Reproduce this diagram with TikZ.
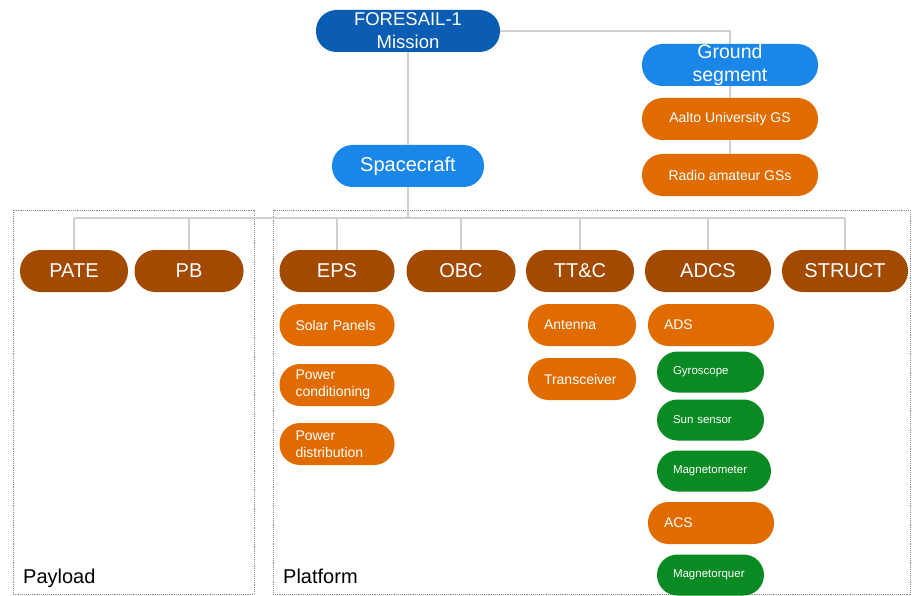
\documentclass[tikz,border=0pt]{standalone}
\usepackage{fontspec}
\setmainfont{Liberation Sans}
\definecolor{dblue}{HTML}{0B5DB3}
\definecolor{lblue}{HTML}{1A86E8}
\definecolor{brown}{HTML}{A14A00}
\definecolor{orng}{HTML}{E06C00}
\definecolor{grn}{HTML}{0A8A22}
\definecolor{lgray}{HTML}{CFCFCF}
\definecolor{dgray}{HTML}{8A8A8A}
\tikzset{
  pill/.style={fill=#1, text=white, rounded corners=20.5pt, minimum height=42pt, inner sep=0pt, align=center},
  big/.style={font=\fontsize{20}{23}\selectfont},
  top/.style={font=\fontsize{18.5}{23}\selectfont},
  mid/.style={font=\fontsize{14}{17}\selectfont},
  small/.style={font=\fontsize{11.5}{14}\selectfont},
  leftpill/.style n args={3}{fill=#1, text=white, rounded corners=20.5pt, minimum height=#3, inner ysep=0pt, inner xsep=16pt, text width=#2, align=left},
  conn/.style={draw=lgray, line width=1.3pt},
  grp/.style={draw=dgray, densely dotted, line width=0.9pt},
}
\begin{document}
\begin{tikzpicture}[x=1pt,y=-1pt]
\useasboundingbox (0,0) rectangle (912,596);
% group boxes
\draw[grp] (13,210) rectangle (254,594);
\draw[grp] (273,210) rectangle (910,594);
\node[anchor=base west, inner sep=0pt, font=\fontsize{20}{24}\selectfont] (payload) at (23,583) {Payload};
\node[anchor=base west, inner sep=0pt, font=\fontsize{20}{24}\selectfont] (platform) at (283,583) {Platform};
% connectors coordinates
\coordinate (bar) at (408,218);
\coordinate (gcorner) at (730,31);
% top nodes
\node[pill=dblue, top, minimum width=184pt] (mission) at (408,31) {FORESAIL-1\\Mission};
\node[pill=lblue, font=\fontsize{19.5}{23}\selectfont, minimum width=176pt] (ground) at (730,65) {Ground\\segment};
\node[pill=lblue, big, minimum width=152pt] (sc) at (408,166) {Spacecraft};
% level 2
\node[pill=brown, big, minimum width=108pt] (pate) at (74,271) {PATE};
\node[pill=brown, big, minimum width=109pt] (pb) at (189,271) {PB};
\node[pill=brown, big, minimum width=115pt] (eps) at (337,271) {EPS};
\node[pill=brown, big, minimum width=109pt] (obc) at (461,271) {OBC};
\node[pill=brown, big, minimum width=108pt] (ttc) at (580,271) {TT\&C};
\node[pill=brown, big, minimum width=126pt] (adcs) at (708,271) {ADCS};
\node[pill=brown, big, minimum width=126pt] (struct) at (845,271) {STRUCT};
% connectors
\draw[conn] (mission.south) -- (sc.north);
\draw[conn] (mission.east) -- (gcorner) -- (ground.north);
\draw[conn] (sc.south) -- (bar);
\draw[conn] (pate.north |- bar) -- (struct.north |- bar);
\foreach \n in {pate,pb,eps,obc,ttc,adcs,struct}{
  \draw[conn] (\n.north |- bar) -- (\n.north);
}
% ground children
\node[pill=orng, mid, minimum width=176pt] (aalto) at (730,119) {Aalto University GS};
\node[pill=orng, mid, minimum width=176pt] (radio) at (730,175) {Radio amateur GSs};
\draw[conn] (ground.south) -- (aalto.north);
\draw[conn] (aalto.south) -- (radio.north);
% EPS children
\node[leftpill={orng}{83pt}{42pt}, mid] (solar) at (337,325) {Solar Panels};
\node[leftpill={orng}{83pt}{42pt}, mid] (pcond) at (337,385) {Power\\conditioning};
\node[leftpill={orng}{83pt}{42pt}, mid] (pdist) at (337,444) {Power\\distribution};
% TT&C children
\node[leftpill={orng}{76pt}{42pt}, mid] (ant) at (582,325) {Antenna};
\node[leftpill={orng}{76pt}{42pt}, mid] (trx) at (582,379) {Transceiver};
% ADCS children
\node[leftpill={orng}{94pt}{42pt}, mid] (ads) at (711,325) {ADS};
\node[leftpill={grn}{75pt}{41pt}, small] (gyro) at (710.5,372) {Gyroscope};
\node[leftpill={grn}{75pt}{41pt}, small] (sun) at (710.5,420) {Sun sensor};
\node[leftpill={grn}{82pt}{41pt}, small] (mag) at (714,471) {Magnetometer};
\node[leftpill={orng}{94pt}{42pt}, mid] (acs) at (711,523) {ACS};
\node[leftpill={grn}{75pt}{41pt}, small] (mtq) at (710.5,575) {Magnetorquer};
\end{tikzpicture}
\end{document}
